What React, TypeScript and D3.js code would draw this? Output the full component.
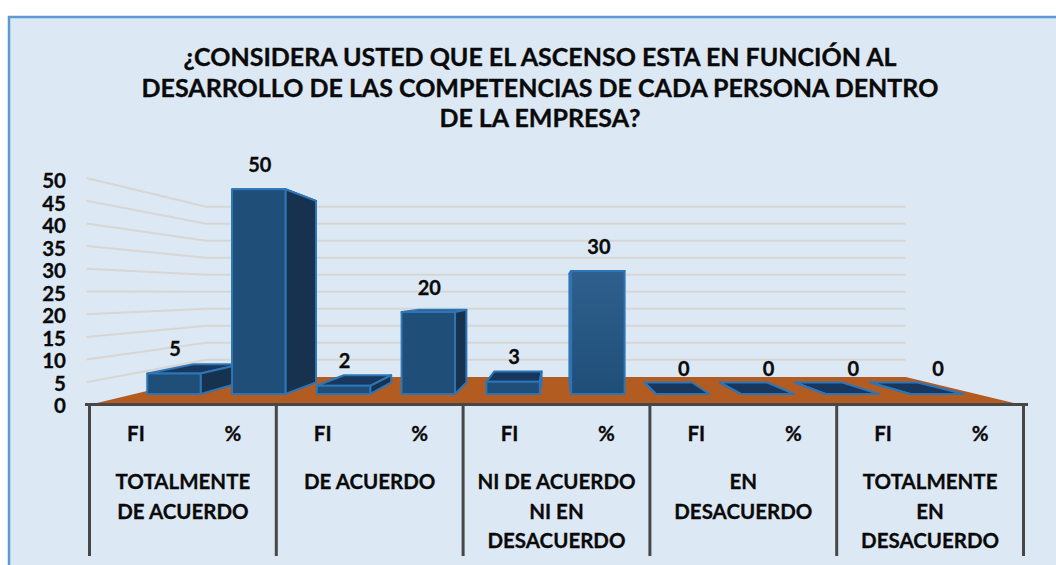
import React from "react";
import * as d3 from "d3";

const titleLines = [
  "¿CONSIDERA USTED QUE EL ASCENSO ESTA EN FUNCIÓN AL",
  "DESARROLLO DE LAS COMPETENCIAS DE CADA PERSONA DENTRO",
  "DE LA EMPRESA?",
];
const categories = [
  ["TOTALMENTE", "DE ACUERDO"],
  ["DE ACUERDO"],
  ["NI DE ACUERDO", "NI EN", "DESACUERDO"],
  ["EN", "DESACUERDO"],
  ["TOTALMENTE", "EN", "DESACUERDO"],
];
const fiValues = [5, 2, 3, 0, 0];
const pctValues = [50, 20, 30, 0, 0];
const yTicks = d3.range(0, 55, 5);

const W = 1056, H = 565;
const vx = 555.5, vy = 292.5;
const halfW = 467;
const FONT = "Lato, 'Open Sans', sans-serif";
const S_FRONT_WALL = 1, S_BACK_WALL = 0.75, S_BAR_FRONT = 0.902, S_BAR_BACK = 0.8;

const yRel = d3.scaleLinear().domain([0, 50]).range([112.5, -114.5]);
const yLabel = d3.scaleLinear().domain([0, 50]).range([413, 188]);
const slots = d3.range(10);
const xBand = d3.scaleBand<number>().domain(slots).range([-470, 470]).paddingInner(0.37).paddingOuter(0.185);
const groupBand = d3.scaleBand<number>().domain(d3.range(5)).range([-halfW + 1, halfW + 1]);

const px = (wx: number, s: number) => vx + wx * s;
const py = (v: number, s: number) => vy + yRel(v) * s;
const poly = (pts: [number, number][]) => pts.map((p) => p.join(",")).join(" ");

const values = categories.flatMap((_, i) => [fiValues[i], pctValues[i]]);
const bars = values.map((v, i) => ({ v, i, x0: xBand(i)!, x1: xBand(i)! + xBand.bandwidth() }));
const ordered = [...bars].sort(
  (a, b) => Math.abs(b.x0 + b.x1) - Math.abs(a.x0 + a.x1)
);

const frontC = "#1f4e79", sideC = "#17324f", topC = "#17375e", edge = "#2e75b6";
const textC = "#0a0a0a";

export default function App() {
  return (
    <svg width={W} height={H} style={{ position: "absolute", left: 0, top: 0, display: "block" }} fontFamily={FONT}>
      <defs>
        <linearGradient id="lite" x1="0" y1="0" x2="0" y2="1">
          <stop offset="0" stopColor="#2f5f8c" />
          <stop offset="1" stopColor="#1f4e79" />
        </linearGradient>
      </defs>
      <rect x={0} y={0} width={W} height={H} fill="#fff" />
      <rect x={9} y={17} width={1060} height={560} fill="#dde8f5" stroke="#5b9bd5" strokeWidth={2.5} />

      <g stroke={textC} strokeWidth={0.35}>
        {titleLines.map((t, i) => (
          <text key={i} x={540} y={[66, 97, 127][i]} textAnchor="middle" fontSize={25} fontWeight={700} fill={textC}>{t}</text>
        ))}
      </g>

      {/* gridlines */}
      {yTicks.filter((t) => t > 0).map((t) => (
        <polyline
          key={t}
          fill="none"
          stroke="#d8d6d2"
          strokeWidth={2}
          points={poly([
            [px(-halfW, S_FRONT_WALL) - 2, py(t, S_FRONT_WALL)],
            [px(-halfW, S_BACK_WALL) + 1, py(t, S_BACK_WALL)],
            [px(halfW, S_BACK_WALL), py(t, S_BACK_WALL)],
          ])}
        />
      ))}

      {/* floor */}
      <polygon
        fill="#b35c22"
        points={poly([
          [px(-halfW, S_FRONT_WALL), py(0, S_FRONT_WALL)],
          [px(-halfW, S_BACK_WALL), py(0, S_BACK_WALL)],
          [px(halfW, S_BACK_WALL), py(0, S_BACK_WALL)],
          [px(halfW, S_FRONT_WALL), py(0, S_FRONT_WALL)],
        ])}
      />

      {/* bars */}
      {ordered.map((b) => {
        const f = S_BAR_FRONT, k = S_BAR_BACK;
        const left = b.x1 < 0;
        const sx = left ? b.x1 : b.x0;
        return (
          <g key={b.i} stroke={edge} strokeWidth={2} strokeLinejoin="round">
            <polygon
              fill={topC}
              points={poly([
                [px(b.x0, f), py(b.v, f)],
                [px(b.x1, f), py(b.v, f)],
                [px(b.x1, k), py(b.v, k)],
                [px(b.x0, k), py(b.v, k)],
              ])}
            />
            <polygon
              fill={sideC}
              points={poly([
                [px(sx, f), py(0, f)],
                [px(sx, f), py(b.v, f)],
                [px(sx, k), py(b.v, k)],
                [px(sx, k), py(0, k)],
              ])}
            />
            {b.v > 0 && (
              <rect
                x={px(b.x0, f)}
                y={py(b.v, f)}
                width={px(b.x1, f) - px(b.x0, f)}
                height={py(0, f) - py(b.v, f)}
                fill={b.v === 30 ? "url(#lite)" : frontC}
              />
            )}
          </g>
        );
      })}

      {/* data labels */}
      <g stroke={textC} strokeWidth={0.3}>
        {bars.map((b) => (
          <text
            key={b.i}
            x={px((b.x0 + b.x1) / 2, S_BAR_FRONT) + 1}
            y={py(b.v, S_BAR_FRONT) - 17.5}
            textAnchor="middle"
            fontSize={20}
            fontWeight={700}
            fill={textC}
          >
            {b.v}
          </text>
        ))}
      </g>

      {/* y axis labels */}
      <g stroke={textC} strokeWidth={0.3}>
        {yTicks.map((t) => (
          <text key={t} x={66} y={yLabel(t)} textAnchor="end" fontSize={20.5} fontWeight={700} fill={textC}>{t}</text>
        ))}
      </g>

      {/* table axis */}
      <line x1={85} x2={1028} y1={404.5} y2={404.5} stroke="#474747" strokeWidth={3} />
      {d3.range(6).map((i) => {
        const x = px(-halfW + i * groupBand.step(), 1) + 1;
        return <line key={i} x1={x} x2={x} y1={404} y2={556} stroke="#474747" strokeWidth={3} />;
      })}

      {categories.map((lines, i) => {
        const c = px(groupBand(i)! + groupBand.bandwidth() / 2, 1);
        return (
          <g key={i} fontWeight={700} fontSize={20.5} fill={textC} stroke={textC} strokeWidth={0.3} textAnchor="middle">
            <text x={c - 47} y={441}>FI</text>
            <text x={c + 50} y={441}>%</text>
            {lines.map((l, j) => (
              <text key={j} x={c} y={489 + j * 29.5}>{l}</text>
            ))}
          </g>
        );
      })}
    </svg>
  );
}
